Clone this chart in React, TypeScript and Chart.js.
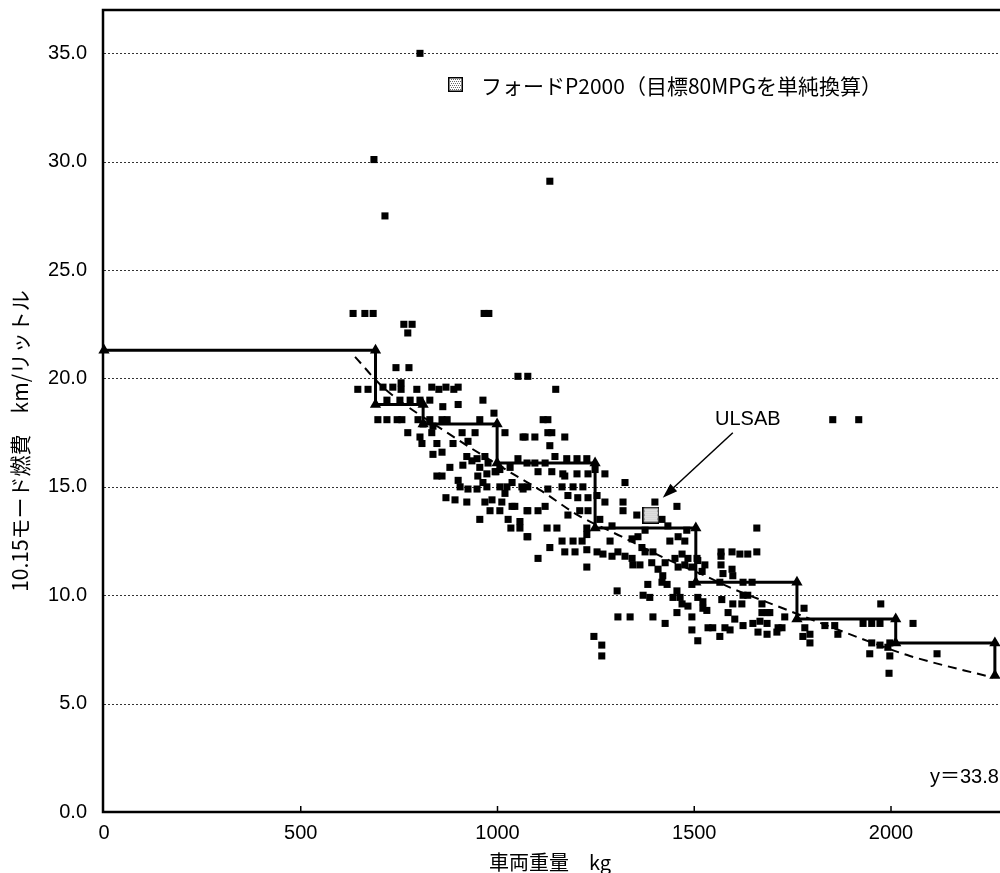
import React, { useEffect, useRef } from "react";
import { Chart, registerables } from "chart.js";
Chart.register(...registerables);

// ---- data ----
const xTickValues = [0, 500, 1000, 1500, 2000];
const yTickValues = [0, 5, 10, 15, 20, 25, 30, 35];

// fuel-economy standard (step line): weight class boundaries and level per class
const weightBreaks = [0, 690, 811, 999, 1248, 1504, 1761, 2012, 2264];
const standardLevels = [21.3, 18.8, 17.9, 16.1, 13.1, 10.6, 8.9, 7.8, 6.3];

// dashed trend line (read points)
const trendWeights = [638, 709, 872, 1039, 1113, 1204, 1316, 1426, 1527, 1598, 1725, 1852, 1954, 2048, 2259];
const trendValues = [21.0, 19.6, 17.5, 15.6, 14.8, 13.7, 12.7, 11.7, 10.9, 10.3, 9.4, 8.5, 7.8, 7.2, 6.2];

// individual cars
const carWeights = [
  803, 686, 714, 1133, 1852, 1918, 633, 663, 684, 966, 978, 762, 783, 772, 742, 775, 1052, 1077, 1148, 645,
  671, 709, 734, 755, 755, 795, 833, 851, 869, 889, 900, 719, 752, 778, 803, 828, 861, 900, 963, 991,
  696, 719, 745, 757, 798, 828, 859, 872, 955, 811, 836, 772, 803, 833, 910, 943, 1019, 1065, 808, 846,
  887, 925, 836, 859, 922, 948, 968, 879, 846, 859, 955, 976, 996, 1032, 1052, 1075, 950, 973, 1116, 1128,
  1128, 1138, 1095, 1171, 1070, 1133, 1146, 1176, 1202, 1227, 1103, 1138, 1166, 1202, 1230, 1273, 1095, 1121, 1248, 1171,
  1324, 1077, 1128, 1164, 1192, 1217, 1230, 1253, 1179, 1204, 1273, 1319, 1319, 1077, 1103, 1121, 1179, 1209, 1230, 1354,
  1456, 1400, 1418, 1126, 1151, 1227, 1227, 1077, 1164, 1192, 1215, 1286, 1342, 1357, 1367, 1438, 1459, 1476, 1133, 1171,
  1197, 1227, 1253, 1268, 1291, 1306, 1324, 1342, 1375, 1395, 1451, 1469, 1484, 1507, 1103, 1344, 1362, 1392, 1408, 1426,
  1459, 1476, 1494, 1227, 1509, 1527, 1420, 1418, 1431, 1494, 1304, 1382, 1370, 1387, 1456, 1446, 1464, 1469, 1484, 1509,
  1522, 1532, 1306, 1337, 1395, 1426, 1456, 1494, 1494, 1509, 1535, 1245, 1265, 1265, 1659, 1568, 1568, 1596, 1616, 1636,
  1659, 1568, 1596, 1598, 1520, 1573, 1565, 1624, 1647, 1624, 1636, 1570, 1522, 1598, 1621, 1672, 1586, 1672, 1685, 1692,
  1730, 1603, 1624, 1649, 1667, 1685, 1547, 1578, 1591, 1662, 1685, 1713, 1723, 1710, 1565, 1779, 1781, 1794, 1776, 1794,
  1832, 1857, 1865, 1929, 1951, 1972, 1974, 1951, 1972, 1946, 1997, 1992, 1997, 1995, 2056, 2117, 905, 925, 948, 963,
  973, 994, 922, 968, 986, 1006, 1024, 1062, 1065, 1011, 1006, 1037, 1044, 1075, 1057, 1057, 1034, 1075, 912, 935,
  1006, 900, 1019, 1037, 981, 955, 1027, 869, 892, 1291, 1375, 1433, 1481, 1260
];
const carEconomy = [
  35.0, 30.1, 27.5, 29.1, 18.1, 18.1, 23.0, 23.0, 23.0, 23.0, 23.0, 22.5, 22.5, 22.1, 20.5, 20.5, 20.1, 20.1, 19.5, 19.5,
  19.5, 19.6, 19.6, 19.8, 19.5, 19.5, 19.6, 19.5, 19.6, 19.5, 19.6, 19.0, 19.0, 19.0, 19.0, 19.0, 18.7, 18.8, 19.0, 18.4,
  18.1, 18.1, 18.1, 18.1, 18.1, 18.1, 18.1, 18.1, 18.1, 17.9, 17.8, 17.5, 17.3, 17.5, 17.5, 17.5, 17.5, 17.3, 17.0, 17.0,
  17.0, 17.1, 16.5, 16.6, 16.4, 16.3, 16.4, 15.9, 15.5, 15.5, 15.9, 16.1, 15.7, 15.9, 16.3, 16.1, 15.5, 15.6, 18.1, 18.1,
  17.5, 17.5, 17.3, 17.3, 17.3, 16.9, 16.4, 16.3, 16.3, 16.3, 15.7, 15.7, 15.6, 15.6, 15.6, 15.6, 16.1, 16.1, 15.8, 15.5,
  15.2, 15.0, 14.9, 15.0, 15.0, 15.0, 14.5, 14.6, 14.6, 14.5, 14.3, 14.3, 13.9, 13.9, 13.9, 14.1, 13.7, 13.9, 13.9, 13.7,
  14.1, 14.3, 13.5, 13.1, 13.1, 13.1, 12.8, 12.7, 12.5, 12.5, 12.5, 12.5, 12.6, 12.7, 12.2, 12.5, 12.7, 12.5, 12.2, 12.0,
  12.0, 12.1, 12.0, 11.9, 11.8, 12.0, 11.8, 11.7, 12.0, 12.0, 11.7, 11.9, 11.7, 11.7, 11.7, 11.4, 11.4, 11.5, 11.2, 11.5,
  11.3, 11.4, 11.3, 11.3, 11.6, 11.4, 10.9, 10.6, 10.5, 10.5, 10.2, 10.5, 10.0, 9.9, 10.2, 9.9, 9.9, 9.6, 9.5, 9.9,
  9.7, 9.3, 9.0, 9.0, 9.0, 8.7, 9.2, 9.0, 8.4, 7.9, 8.5, 8.1, 7.7, 7.2, 13.1, 12.0, 11.8, 12.0, 11.9, 11.9,
  12.0, 11.4, 11.2, 10.9, 11.1, 11.0, 10.6, 10.6, 10.6, 10.0, 10.0, 9.8, 9.4, 9.6, 9.6, 9.6, 9.2, 9.2, 9.2, 9.2,
  9.0, 8.9, 8.6, 8.7, 8.8, 8.7, 8.5, 8.5, 8.4, 8.3, 8.2, 8.5, 8.5, 8.3, 8.1, 9.4, 8.5, 8.2, 8.1, 7.8,
  8.6, 8.6, 8.2, 8.7, 8.7, 8.7, 9.6, 7.8, 7.7, 7.3, 7.8, 7.6, 7.2, 6.4, 8.7, 7.3, 15.0, 14.9, 14.9, 15.2,
  15.0, 15.7, 14.3, 14.3, 14.4, 15.0, 15.0, 15.0, 14.9, 14.3, 13.9, 14.1, 14.1, 13.9, 13.4, 13.1, 13.1, 12.7, 16.0, 16.2,
  15.8, 15.3, 14.7, 15.2, 13.9, 13.5, 13.5, 14.5, 14.4, 13.2, 13.0, 13.2, 13.0, 13.5
];

// Ford P2000 (single highlighted point)
const p2000Weight = [1390];
const p2000Economy = [13.7];

const legendLabel = "フォードP2000（目標80MPGを単純換算）";
const ulsabLabel = "ULSAB";
const ulsabLabelPos = [1636, 18.1];
const ulsabArrowFrom = [1598, 17.5];
const ulsabArrowTo = [1420, 14.5];
const fitLabel = "y＝33.8";
const fitLabelPos = [2099, 1.6];
const xTitle = "車両重量　kg";
const yTitle = "10.15モード燃費　km/リットル";

const LATIN = '"Liberation Sans", Arial, sans-serif';
const CJK = '"Noto Sans CJK JP", "Liberation Sans", sans-serif';
const FIT_FONT = '"Liberation Sans", "Noto Sans CJK JP", sans-serif';

function makeDotted(size: number) {
  const c = document.createElement("canvas");
  c.width = size;
  c.height = size;
  const g = c.getContext("2d")!;
  g.fillStyle = "#fff";
  g.fillRect(0, 0, size, size);
  g.fillStyle = "#6a6a6a";
  for (let y = 2; y < size - 2; y += 2) {
    for (let x = (y / 2) % 2 === 0 ? 2 : 3; x < size - 2; x += 2) g.fillRect(x, y, 1, 1);
  }
  g.strokeStyle = "#000";
  g.lineWidth = 1.5;
  g.strokeRect(0.75, 0.75, size - 1.5, size - 1.5);
  return c;
}

export default function App() {
  const ref = useRef<HTMLCanvasElement | null>(null);

  useEffect(() => {
    document.body.style.margin = "0";
    const canvas = ref.current!;
    const bigMarker = makeDotted(17);
    const legendMarker = makeDotted(15);

    const stepPoints: { x: number; y: number }[] = [];
    for (let i = 0; i < standardLevels.length; i++) {
      stepPoints.push({ x: weightBreaks[i], y: standardLevels[i] });
      if (i + 1 < weightBreaks.length) stepPoints.push({ x: weightBreaks[i + 1], y: standardLevels[i] });
    }
    const carPoints = carWeights.map((w, i) => ({ x: w, y: carEconomy[i] }));
    const trendPoints = trendWeights.map((w, i) => ({ x: w, y: trendValues[i] }));
    const p2000Points = p2000Weight.map((w, i) => ({ x: w, y: p2000Economy[i] }));

    const decor = {
      id: "decor",
      beforeDatasetsDraw(chart: any) {
        const { ctx, chartArea: a, scales } = chart;
        const ys = scales.y;
        ctx.save();
        ctx.strokeStyle = "#333";
        ctx.lineWidth = 1;
        ctx.setLineDash([2, 2]);
        yTickValues.forEach((v) => {
          if (v === 0) return;
          const py = Math.round(ys.getPixelForValue(v)) + 0.5;
          ctx.beginPath();
          ctx.moveTo(a.left, py);
          ctx.lineTo(a.right, py);
          ctx.stroke();
        });
        ctx.restore();
      },
      afterDraw(chart: any) {
        const { ctx, chartArea: a, scales } = chart;
        const xs = scales.x;
        const ys = scales.y;
        ctx.save();
        // axes frame
        ctx.strokeStyle = "#000";
        ctx.lineWidth = 2.5;
        ctx.setLineDash([]);
        ctx.beginPath();
        ctx.moveTo(a.right + 2, a.top);
        ctx.lineTo(a.left - 1, a.top);
        ctx.lineTo(a.left - 1, a.bottom);
        ctx.lineTo(a.right + 2, a.bottom);
        ctx.stroke();
        // x tick marks
        ctx.lineWidth = 1.5;
        xTickValues.forEach((v) => {
          if (v === 0) return;
          const px = xs.getPixelForValue(v);
          ctx.beginPath();
          ctx.moveTo(px, a.bottom);
          ctx.lineTo(px, a.bottom - 6);
          ctx.stroke();
        });

        ctx.fillStyle = "#000";
        // legend
        ctx.drawImage(legendMarker, 448, 77, 15, 15);
        ctx.font = `21px ${CJK}`;
        ctx.textAlign = "left";
        ctx.textBaseline = "middle";
        ctx.fillText(legendLabel, 481, 86);

        // ULSAB label + arrow
        const lx = xs.getPixelForValue(ulsabLabelPos[0]);
        const ly = ys.getPixelForValue(ulsabLabelPos[1]);
        ctx.font = `20px ${LATIN}`;
        ctx.textAlign = "center";
        ctx.fillText(ulsabLabel, lx, ly);
        const x1 = xs.getPixelForValue(ulsabArrowFrom[0]);
        const y1 = ys.getPixelForValue(ulsabArrowFrom[1]);
        const x2 = xs.getPixelForValue(ulsabArrowTo[0]);
        const y2 = ys.getPixelForValue(ulsabArrowTo[1]);
        const ang = Math.atan2(y2 - y1, x2 - x1);
        const head = 15;
        ctx.lineWidth = 1.5;
        ctx.beginPath();
        ctx.moveTo(x1, y1);
        ctx.lineTo(x2 - head * 0.8 * Math.cos(ang), y2 - head * 0.8 * Math.sin(ang));
        ctx.stroke();
        ctx.beginPath();
        ctx.moveTo(x2, y2);
        ctx.lineTo(x2 - head * Math.cos(ang) + 5 * Math.sin(ang), y2 - head * Math.sin(ang) - 5 * Math.cos(ang));
        ctx.lineTo(x2 - head * Math.cos(ang) - 5 * Math.sin(ang), y2 - head * Math.sin(ang) + 5 * Math.cos(ang));
        ctx.closePath();
        ctx.fill();

        // fit label
        ctx.font = `20px ${FIT_FONT}`;
        ctx.textAlign = "left";
        ctx.fillText(fitLabel, xs.getPixelForValue(fitLabelPos[0]), ys.getPixelForValue(fitLabelPos[1]));

        // axis titles
        ctx.font = `20px ${CJK}`;
        ctx.textAlign = "center";
        ctx.fillText(xTitle, 550, 862);
        ctx.translate(20, 441);
        ctx.rotate(-Math.PI / 2);
        ctx.font = `21px ${CJK}`;
        ctx.fillText(yTitle, 0, 0);
        ctx.restore();
      },
    };

    const chart = new Chart(canvas, {
      type: "scatter",
      data: {
        datasets: [
          {
            label: "cars",
            data: carPoints,
            pointStyle: "rect",
            pointRadius: 5,
            borderWidth: 0,
            backgroundColor: "#000",
            showLine: false,
            order: 4,
          },
          {
            label: "trend",
            data: trendPoints,
            showLine: true,
            borderColor: "#000",
            borderWidth: 2,
            borderDash: [9, 6],
            pointRadius: 0,
            cubicInterpolationMode: "monotone",
            order: 3,
          },
          {
            label: "standard",
            data: stepPoints,
            showLine: true,
            borderColor: "#000",
            borderWidth: 3,
            backgroundColor: "#000",
            pointStyle: "triangle",
            pointRadius: 6.5,
            pointBorderWidth: 0,
            tension: 0,
            clip: false,
            order: 2,
          },
          {
            label: "P2000",
            data: p2000Points,
            pointStyle: bigMarker as any,
            pointRadius: 8,
            showLine: false,
            order: 1,
          },
        ] as any,
      },
      options: {
        animation: false,
        responsive: false,
        events: [],
        layout: { autoPadding: false, padding: { top: 10, right: 0, left: 0, bottom: 0 } },
        plugins: { legend: { display: false }, tooltip: { enabled: false } },
        scales: {
          x: {
            type: "linear",
            min: 0,
            max: 2277,
            grid: { display: false, drawTicks: false },
            border: { display: false },
            ticks: {
              includeBounds: false,
              autoSkip: false,
              maxRotation: 0,
              padding: 9,
              color: "#000",
              font: { family: LATIN, size: 20 },
              callback: (v: any) => String(v),
            },
            afterBuildTicks: (s: any) => {
              s.ticks = xTickValues.map((v) => ({ value: v }));
            },
            afterFit: (s: any) => {
              s.height = 61;
              s.paddingLeft = 0;
              s.paddingRight = 0;
              s.paddingTop = 0;
              s.paddingBottom = 0;
            },
          },
          y: {
            type: "linear",
            min: 0,
            max: 37,
            grid: { display: false, drawTicks: false },
            border: { display: false },
            ticks: {
              includeBounds: false,
              autoSkip: false,
              padding: 17,
              color: "#000",
              font: { family: LATIN, size: 20 },
              callback: (v: any) => Number(v).toFixed(1),
            },
            afterBuildTicks: (s: any) => {
              s.ticks = yTickValues.map((v) => ({ value: v }));
            },
            afterFit: (s: any) => {
              s.width = 104;
              s.paddingLeft = 0;
              s.paddingRight = 0;
              s.paddingTop = 0;
              s.paddingBottom = 0;
            },
          },
        },
      } as any,
      plugins: [decor],
    });
    return () => chart.destroy();
  }, []);

  return (
    <div style={{ position: "absolute", left: 0, top: 0, width: 1000, height: 873, background: "#fff" }}>
      <canvas ref={ref} width={1000} height={873} style={{ display: "block" }} />
    </div>
  );
}
